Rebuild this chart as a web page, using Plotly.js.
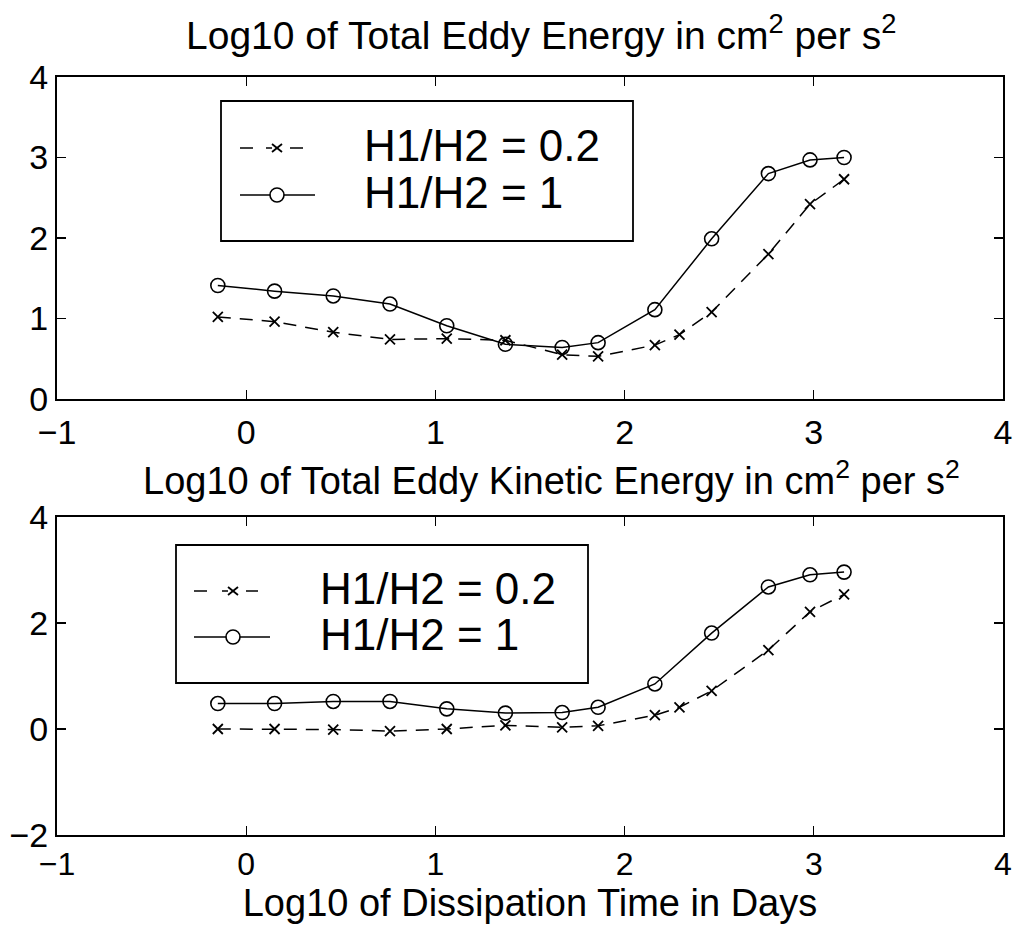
<!DOCTYPE html>
<html>
<head>
<meta charset="utf-8">
<script src="https://cdn.plot.ly/plotly-3.0.1.min.js"></script>
<style>html,body{margin:0;padding:0;background:#fff;}#chart{width:1018px;height:927px;}</style>
</head>
<body>
<div id="chart"></div>
<script>
// ---- data ----
const logTimeA = [-0.15, 0.15, 0.46, 0.76, 1.06, 1.37, 1.67, 1.86, 2.16, 2.29, 2.46, 2.76, 2.98, 3.16]; // H1/H2 = 0.2
const logTimeB = [-0.15, 0.15, 0.46, 0.76, 1.06, 1.37, 1.67, 1.86, 2.16, 2.46, 2.76, 2.98, 3.16];       // H1/H2 = 1
const totalEnergyA = [1.02, 0.96, 0.83, 0.74, 0.75, 0.73, 0.55, 0.53, 0.67, 0.80, 1.08, 1.80, 2.42, 2.73];
const totalEnergyB = [1.41, 1.34, 1.28, 1.18, 0.91, 0.68, 0.64, 0.70, 1.11, 1.99, 2.80, 2.97, 3.00];
const kineticEnergyA = [0.00, 0.00, -0.01, -0.04, 0.00, 0.07, 0.03, 0.06, 0.26, 0.41, 0.72, 1.49, 2.21, 2.54];
const kineticEnergyB = [0.48, 0.48, 0.52, 0.52, 0.38, 0.30, 0.31, 0.41, 0.85, 1.81, 2.68, 2.91, 2.96];
const seriesNames = ['H1/H2 = 0.2', 'H1/H2 = 1'];
const xTicks = [-1, 0, 1, 2, 3, 4];
const yTicksTop = [0, 1, 2, 3, 4];
const yTicksBottom = [-2, 0, 2, 4];
const titleTop = 'Log10 of Total Eddy Energy in cm<sup>2</sup> per s<sup>2</sup>';
const titleBottom = 'Log10 of Total Eddy Kinetic Energy in cm<sup>2</sup> per s<sup>2</sup>';
const xTitle = 'Log10 of Dissipation Time in Days';

// ---- styles ----
const FONT = 'Liberation Sans, Arial, Helvetica, sans-serif';
const dashStyle = '13px,9px';
const styleA = {line: {color: 'black', width: 1.5, dash: dashStyle}, marker: {symbol: 'x-thin-open', size: 10, color: 'black', line: {color: 'black', width: 1.8}}};
const styleB = {line: {color: 'black', width: 1.5}, marker: {symbol: 'circle-open', size: 14, color: 'black', line: {color: 'black', width: 1.6}}};

function tr(x, y, name, st, xa, ya) {
  return {x: x, y: y, name: name, type: 'scatter', mode: 'lines+markers', xaxis: xa, yaxis: ya,
          line: st.line, marker: st.marker, showlegend: false, hoverinfo: 'x+y'};
}
const traces = [
  tr(logTimeA, totalEnergyA, seriesNames[0], styleA, 'x', 'y'),
  tr(logTimeB, totalEnergyB, seriesNames[1], styleB, 'x', 'y'),
  tr(logTimeA, kineticEnergyA, seriesNames[0], styleA, 'x2', 'y2'),
  tr(logTimeB, kineticEnergyB, seriesNames[1], styleB, 'x2', 'y2')
];

// plot area in pixels: left 57, right 1003, top 77, bottom 835
const L = 57, R = 1003, T = 77, B = 835;
const px = v => (v - L) / (R - L);
const py = v => (B - v) / (B - T);

// manual legend boxes (MATLAB style)
const shapes = [];
const annotations = [];
function seg(x0, x1, y, extra) {
  return Object.assign({type: 'line', xref: 'paper', yref: 'paper', x0: px(x0), x1: px(x1), y0: py(y), y1: py(y),
                        line: {color: 'black', width: 1.5}, layer: 'above'}, extra || {});
}
function legendBox(box) {
  shapes.push({type: 'rect', xref: 'paper', yref: 'paper', x0: px(box.l), x1: px(box.r), y0: py(box.b), y1: py(box.t),
               line: {color: 'black', width: 1.8}, fillcolor: 'white', layer: 'above'});
  // row 1: dashed sample  "- x -"
  shapes.push(seg(box.sx0, box.sx0 + 13, box.r1));
  shapes.push(seg(box.mx + 13, box.sx1a, box.r1));
  [[-5, 5, -4, 4], [-5, 5, 4, -4]].forEach(d => shapes.push({type: 'line', xref: 'paper', yref: 'paper',
      xsizemode: 'pixel', ysizemode: 'pixel', xanchor: px(box.mx), yanchor: py(box.r1),
      x0: d[0], x1: d[1], y0: d[2], y1: d[3], line: {color: 'black', width: 1.8}, layer: 'above'}));
  shapes.push(seg(box.mx - 11, box.mx - 5, box.r1));
  // row 2: solid sample with circle
  shapes.push(seg(box.sx0, box.sx1b, box.r2));
  shapes.push({type: 'circle', xref: 'paper', yref: 'paper', xsizemode: 'pixel', ysizemode: 'pixel',
               xanchor: px(box.mx), yanchor: py(box.r2), x0: -7, x1: 7, y0: -7, y1: 7,
               line: {color: 'black', width: 1.6}, fillcolor: 'white', layer: 'above'});
  [box.r1, box.r2].forEach((r, i) => annotations.push({xref: 'paper', yref: 'paper', x: px(box.tx), y: py(r - 3),
      xanchor: 'left', yanchor: 'middle', showarrow: false, text: seriesNames[i],
      font: {family: FONT, size: 44, color: 'black'}}));
}
legendBox({l: 221, r: 633, t: 101, b: 241, r1: 148, r2: 195, sx0: 240, sx1a: 303, sx1b: 315, mx: 277, tx: 362});
legendBox({l: 176, r: 588, t: 545, b: 683, r1: 591, r2: 637, sx0: 194, sx1a: 258, sx1b: 270, mx: 233, tx: 318});

annotations.push({xref: 'paper', yref: 'paper', x: px(541), y: py(32), xanchor: 'center', yanchor: 'middle',
                  showarrow: false, text: titleTop, font: {family: FONT, size: 39, color: 'black'}});
annotations.push({xref: 'paper', yref: 'paper', x: px(551), y: py(478), xanchor: 'center', yanchor: 'middle',
                  showarrow: false, text: titleBottom, font: {family: FONT, size: 38, color: 'black'}});

const axisBase = {showline: true, linecolor: 'black', linewidth: 2, mirror: 'ticks', ticks: 'inside',
                  ticklen: 9, tickwidth: 1.4, tickcolor: 'black', showgrid: false, zeroline: false,
                  tickfont: {family: FONT, size: 34, color: 'black'}, tickmode: 'array'};
const fmt = v => v < 0 ? '\u2212' + Math.abs(v) : String(v);

const layout = {
  width: 1018, height: 927,
  margin: {l: L, r: 1018 - R, t: T, b: 927 - B},
  paper_bgcolor: 'white', plot_bgcolor: 'white',
  font: {family: FONT, color: 'black'},
  showlegend: false,
  xaxis: Object.assign({}, axisBase, {domain: [0, 1], anchor: 'y', range: [-1, 4], tickvals: xTicks, ticktext: xTicks.map(fmt), ticklabelstandoff: 2}),
  yaxis: Object.assign({}, axisBase, {domain: [py(399), 1], anchor: 'x', range: [0, 4], tickvals: yTicksTop, ticktext: yTicksTop.map(fmt)}),
  xaxis2: Object.assign({}, axisBase, {domain: [0, 1], anchor: 'y2', range: [-1, 4], tickvals: xTicks, ticktext: xTicks.map(fmt), ticklabelstandoff: 0,
    tickfont: {family: FONT, size: 32, color: 'black'},
    title: {text: xTitle, font: {family: FONT, size: 38, color: 'black'}, standoff: 0}}),
  yaxis2: Object.assign({}, axisBase, {domain: [0, py(517)], anchor: 'x2', range: [-2, 4], tickvals: yTicksBottom, ticktext: yTicksBottom.map(fmt)}),
  shapes: shapes,
  annotations: annotations
};

Plotly.newPlot('chart', traces, layout, {displayModeBar: false, staticPlot: true});
</script>
</body>
</html>
